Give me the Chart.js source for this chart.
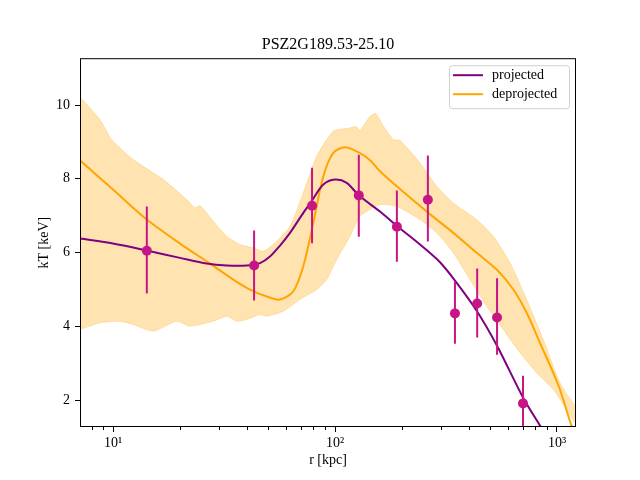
<!DOCTYPE html>
<html>
<head>
<meta charset="utf-8">
<script src="https://cdn.jsdelivr.net/npm/chart.js@4.4.0/dist/chart.umd.min.js"></script>
<style>
  body { margin: 0; background: #fff; }
</style>
</head>
<body>
<canvas id="tempChart" width="640" height="480"></canvas>
<script>
// measured spectral temperatures (r in kpc, kT in keV)
var obsR  = [14.2, 43.2, 78.8, 128, 190, 262, 347, 437, 537, 703];
var obsT  = [6.05, 5.65, 7.27, 7.55, 6.70, 7.43, 4.35, 4.62, 4.24, 1.91];
var obsLo = [4.89, 4.70, 6.25, 6.43, 5.75, 6.30, 3.53, 3.70, 3.23, 1.00];
var obsHi = [7.25, 6.60, 8.30, 8.65, 7.68, 8.63, 5.20, 5.57, 5.30, 2.66];

// projected model
var projR = [7.1, 10.0, 14.19, 20.03, 26.43, 32.52, 40.03, 45.94, 50.95, 56.54, 62.71, 71.98, 78.78, 88.59, 100, 112.9, 128.3, 159.5, 190.8, 241.5, 297.2, 353.4, 436.1, 538.3, 702.8, 838.0, 930.0];
var projT = [6.379, 6.244, 6.054, 5.856, 5.702, 5.648, 5.648, 5.715, 5.892, 6.190, 6.534, 7.076, 7.409, 7.843, 7.978, 7.889, 7.545, 7.111, 6.713, 6.217, 5.737, 5.179, 4.409, 3.461, 2.070, 1.312, 0.878];

// deprojected model
var deprR = [7.1, 10.0, 14.19, 20.03, 27.35, 34.83, 41.41, 49.23, 56.54, 64.90, 71.98, 79.86, 88.59, 98.24, 110.9, 129.6, 143.8, 159.5, 189.7, 263.3, 341.2, 434.8, 535.0, 635.7, 730.3, 838.0, 962.3, 1031.6, 1164.8, 1269.6];
var deprT = [8.501, 7.707, 6.894, 6.244, 5.702, 5.268, 4.997, 4.808, 4.726, 4.951, 5.629, 6.805, 8.068, 8.702, 8.854, 8.696, 8.504, 8.203, 7.797, 7.076, 6.534, 5.992, 5.539, 4.997, 4.366, 3.553, 2.740, 2.287, 1.293, 0.797];

// deprojected uncertainty band, upper and lower edges
var bandHiR = [7.1, 8.737, 9.866, 12.34, 16.85, 21.48, 23.41, 24.66, 28.30, 32.52, 37.33, 42.85, 47.54, 54.63, 62.71, 71.98, 82.73, 98.24, 116.8, 124.3, 129.6, 143.8, 153.0, 164.5, 183.0, 196.2, 241.5, 287.1, 341.2, 434.8, 516.6, 614.1, 730.3, 867.6, 1031.6, 1205, 1260];
var bandHiT = [10.22, 9.604, 9.062, 8.520, 7.978, 7.436, 7.211, 7.274, 6.848, 6.442, 6.217, 6.127, 6.035, 6.306, 6.713, 7.618, 8.610, 9.287, 9.379, 9.415, 9.306, 9.694, 9.767, 9.442, 9.062, 9.043, 8.431, 7.797, 7.347, 6.894, 6.442, 5.721, 4.726, 3.642, 2.469, 1.835, 1.75];
var bandLoR = [7.1, 8.737, 10.75, 12.34, 15.19, 19.36, 22.23, 28.30, 32.52, 36.07, 40.03, 45.94, 49.23, 58.51, 69.55, 82.73, 91.75, 101.8, 116.8, 129.6, 143.8, 159.5, 189.7, 241.5, 287.1, 341.2, 405.6, 482.4, 573.0, 681.4, 810.0, 962.3, 1106, 1205, 1260];
var bandLoT = [3.913, 4.095, 4.138, 4.049, 3.867, 4.138, 4.003, 4.138, 4.274, 4.138, 4.184, 4.320, 4.274, 4.409, 4.726, 4.997, 5.268, 5.810, 6.442, 6.984, 7.165, 7.301, 7.255, 6.894, 6.534, 5.992, 5.268, 4.545, 3.913, 3.282, 2.740, 2.287, 1.745, 1.385, 1.25];

// axis ticks
var xTicks = [8, 9, 10, 20, 30, 40, 50, 60, 70, 80, 90, 100, 200, 300, 400, 500, 600, 700, 800, 900, 1000];
var xMajor = {10: '10\u00B9', 100: '10\u00B2', 1000: '10\u00B3'};
var yTicks = [2, 4, 6, 8, 10];

function pairs(xs, ys) {
    return xs.map(function(x, i) { return {x: x, y: ys[i]}; });
}

Chart.defaults.font.family = "'Liberation Serif', 'DejaVu Serif', serif";
Chart.defaults.font.size = 14;
Chart.defaults.color = '#000';

// error bars under the data points
var errorBars = {
    id: 'errorBars',
    beforeDatasetDraw: function(chart, args) {
        if (args.index !== 0) return;
        var ctx = chart.ctx, xs = chart.scales.x, ys = chart.scales.y;
        ctx.save();
        ctx.beginPath();
        ctx.rect(chart.chartArea.left, chart.chartArea.top, chart.chartArea.width, chart.chartArea.height);
        ctx.clip();
        ctx.strokeStyle = '#C71585';
        ctx.lineWidth = 2;
        obsR.forEach(function(r, i) {
            var px = xs.getPixelForValue(r);
            ctx.beginPath();
            ctx.moveTo(px, ys.getPixelForValue(obsLo[i]));
            ctx.lineTo(px, ys.getPixelForValue(obsHi[i]));
            ctx.stroke();
        });
        ctx.restore();
    }
};

// axes frame, minor ticks and legend box
var frameAndLegend = {
    id: 'frameAndLegend',
    afterDraw: function(chart) {
        var ctx = chart.ctx, ca = chart.chartArea, xs = chart.scales.x;
        ctx.save();
        ctx.strokeStyle = '#000';
        ctx.lineWidth = 1;
        ctx.strokeRect(ca.left + 0.5, ca.top + 0.5, ca.width - 1, ca.height - 1);
        // minor ticks on the log axis
        xTicks.forEach(function(v) {
            if (xMajor[v]) return;
            var px = Math.round(xs.getPixelForValue(v)) + 0.5;
            ctx.beginPath();
            ctx.moveTo(px, ca.bottom);
            ctx.lineTo(px, ca.bottom + 3);
            ctx.stroke();
        });

        // legend
        var w = 120, h = 43;
        var lx = ca.right - 7 - w, ly = ca.top + 7;
        ctx.fillStyle = 'rgba(255,255,255,0.8)';
        ctx.strokeStyle = '#d0d0d0';
        ctx.beginPath();
        ctx.roundRect(lx + 0.5, ly + 0.5, w, h, 3);
        ctx.fill();
        ctx.stroke();
        var items = [['projected', '#800080'], ['deprojected', '#FFA500']];
        ctx.font = "14px 'Liberation Serif', 'DejaVu Serif', serif";
        ctx.textBaseline = 'middle';
        items.forEach(function(it, i) {
            var yy = ly + 10 + i * 19;
            ctx.strokeStyle = it[1];
            ctx.lineWidth = 2;
            ctx.beginPath();
            ctx.moveTo(lx + 4, yy);
            ctx.lineTo(lx + 34, yy);
            ctx.stroke();
            ctx.fillStyle = '#000';
            ctx.fillText(it[0], lx + 43, yy);
        });
        ctx.restore();
    }
};

var ctx = document.getElementById('tempChart').getContext('2d');
var chart = new Chart(ctx, {
    type: 'line',
    data: {
        datasets: [{
            label: 'data',
            data: pairs(obsR, obsT),
            showLine: false,
            pointRadius: 5,
            pointBackgroundColor: '#C71585',
            pointBorderWidth: 0
        }, {
            label: 'projected',
            data: pairs(projR, projT),
            borderColor: '#800080',
            borderWidth: 2,
            pointRadius: 0,
            tension: 0.3
        }, {
            label: 'deprojected',
            data: pairs(deprR, deprT),
            borderColor: '#FFA500',
            borderWidth: 2,
            pointRadius: 0,
            tension: 0.3
        }, {
            label: 'band hi',
            data: pairs(bandHiR, bandHiT),
            borderColor: 'rgba(255,165,0,0.25)',
            backgroundColor: 'rgba(255,165,0,0.3)',
            borderWidth: 1,
            pointRadius: 0,
            tension: 0.2,
            fill: '+1'
        }, {
            label: 'band lo',
            data: pairs(bandLoR, bandLoT),
            borderColor: 'rgba(255,165,0,0.25)',
            borderWidth: 1,
            pointRadius: 0,
            tension: 0.2,
            fill: false
        }]
    },
    options: {
        responsive: false,
        animation: false,
        devicePixelRatio: 1,
        layout: { padding: { left: 0, right: 64, top: 0, bottom: 0 } },
        plugins: {
            legend: { display: false },
            tooltip: { enabled: false },
            title: {
                display: true,
                fullSize: false,
                text: 'PSZ2G189.53-25.10',
                font: { size: 16, weight: 'normal' },
                padding: { top: 35, bottom: 4 }
            }
        },
        scales: {
            x: {
                type: 'logarithmic',
                min: 7.1,
                max: 1218,
                afterBuildTicks: function(scale) {
                    scale.ticks = xTicks.map(function(v) { return {value: v, major: !!xMajor[v]}; });
                },
                afterFit: function(scale) { scale.height = 53; },
                ticks: {
                    autoSkip: false,
                    maxRotation: 0,
                    padding: 3,
                    callback: function(v) { return xMajor[v] || ''; }
                },
                grid: {
                    drawOnChartArea: false,
                    tickLength: 5,
                    tickColor: function(c) { return (c.tick && c.tick.major) ? '#000' : 'rgba(0,0,0,0)'; }
                },
                border: { display: false },
                title: { display: true, text: 'r [kpc]', padding: { top: 0, bottom: 11 } }
            },
            y: {
                min: 1.27,
                max: 11.27,
                afterBuildTicks: function(scale) {
                    scale.ticks = yTicks.map(function(v) { return {value: v}; });
                },
                afterFit: function(scale) { scale.width = 80; },
                ticks: { padding: 5 },
                grid: { drawOnChartArea: false, tickLength: 5, tickColor: '#000' },
                border: { display: false },
                title: { display: true, text: 'kT [keV]', padding: { top: 36, bottom: 0 } }
            }
        }
    },
    plugins: [errorBars, frameAndLegend]
});
</script>
</body>
</html>
